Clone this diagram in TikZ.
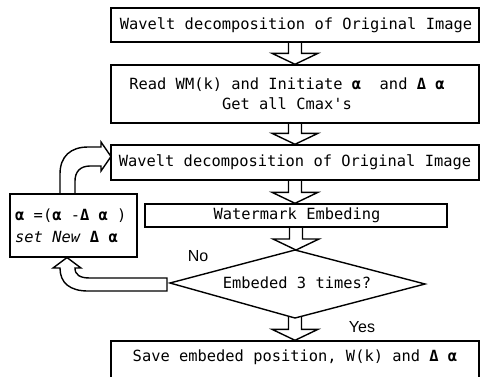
\documentclass[tikz,border=0pt]{standalone}
\usepackage{fontspec}
\newfontfamily\mono{DejaVu Sans Mono}
\newfontfamily\arialf{Liberation Sans}
\usetikzlibrary{calc}
\tikzset{
  box/.style={draw, rectangle, inner sep=0pt, line width=1.4pt},
  txt/.style={inner sep=0pt, align=center, font=\mono\fontsize{15.4}{20}\selectfont},
  lbl/.style={inner sep=0pt, font=\arialf\fontsize{16}{16}\selectfont},
  blk/.style={draw, line width=1.4pt, line join=miter}
}
\newcommand{\blockdown}[2]{\draw[blk] let \p1=(#1), \p2=(#2) in
  (\x1-6.5pt,\y1) -- (\x1-6.5pt,\y2+11pt) -- (\x1-23pt,\y2+11pt) -- (\x1,\y2)
  -- (\x1+23pt,\y2+11pt) -- (\x1+6.5pt,\y2+11pt) -- (\x1+6.5pt,\y1);}
\begin{document}
\begin{tikzpicture}[x=1pt,y=-1pt]
\useasboundingbox (0,0) rectangle (481,376);
% boxes
\node[box, minimum width=368pt, minimum height=34pt] (b1) at (295,25) {};
\node[txt] (t1) at (296,25) {Wavelt decomposition of Original Image};
\node[box, minimum width=368pt, minimum height=58pt] (b2) at (295,94) {};
\node[txt] (t2) at (287,94) {Read WM(k) and Initiate \textbf{α}\ \ and \textbf{Δ α}\\Get all Cmax's};
\node[box, minimum width=368pt, minimum height=35pt] (b3) at (295,162.5) {};
\node[txt] (t3) at (295,162.5) {Wavelt decomposition of Original Image};
\node[box, minimum width=302pt, minimum height=23pt] (b4) at (296,215.5) {};
\node[txt] (t4) at (297,215.5) {Watermark Embeding};
% diamond
\coordinate (dT) at (295,250);
\coordinate (dL) at (170,283);
\coordinate (dR) at (425,284);
\coordinate (dB) at (295,318);
\draw[line width=1.4pt, line join=miter] (dT) -- (dR) -- (dB) -- (dL) -- cycle;
\node[txt] (t5) at (297,283) {Embeded 3 times?};
% last box (bottom edge lies below the picture)
\node[box, minimum width=368pt, minimum height=44pt] (b5) at (295,363) {};
\node[txt] (t6) at (295,357) {Save embeded position, W(k) and \textbf{Δ α}};
% alpha box
\node[box, minimum width=127pt, minimum height=63pt] (a) at (73.5,225.5) {};
\node[txt, anchor=west, align=left, font=\mono\fontsize{15.4}{22}\selectfont] (ta) at (15,226)
  {\textbf{α} =(\textbf{α} -\textbf{Δ α} )\\\textit{set New} \textbf{Δ α}};
% labels
\node[lbl] (no) at (198,256) {No};
\node[lbl] (yes) at (362,327) {Yes};
% straight block arrows
\coordinate (yS) at (295,316.2);
\blockdown{b1.south}{b2.north}
\blockdown{b2.south}{b3.north}
\blockdown{b3.south}{b4.north}
\blockdown{b4.south}{dT}
\blockdown{yS}{b5.north}
% curved arrow: alpha box -> b3
\draw[blk] (60,194) -- (60,174) .. controls (60,156) and (71,147) .. (88,147)
  -- (101,147) -- (101,142) -- (111,156.5) -- (101,171) -- (101,166) -- (90,166)
  .. controls (80,166) and (75,172) .. (75,181) -- (75,194);
% curved arrow: diamond -> alpha box
\draw[blk] (167,278) -- (90,278) .. controls (80,278) and (75,275) .. (75,268)
  -- (81,268) -- (67,257.5) -- (53,268) -- (60,268)
  .. controls (60,283) and (70,291) .. (88,291) -- (167,291) -- cycle;
\end{tikzpicture}
\end{document}
